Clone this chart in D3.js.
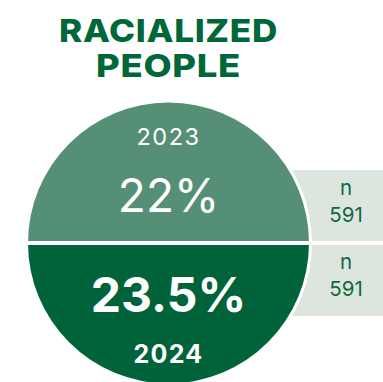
<!DOCTYPE html>
<html>
<head>
<meta charset="utf-8">
<script src="https://cdn.jsdelivr.net/npm/d3@7"></script>
<style>
  html, body { margin: 0; padding: 0; background: #ffffff; }
  svg { display: block; }
  text { font-family: Inter, "Open Sans", sans-serif; }
</style>
</head>
<body>
<script>
// ---- data ----
const titleLines = ["RACIALIZED", "PEOPLE"];
const years = ["2023", "2024"];
const values = [22, 23.5];
const valueLabels = ["22%", "23.5%"];
const sampleSizes = [591, 591];

// ---- layout ----
const W = 383, H = 382;
const cx = 168.5, cy = 243, R = 140.5;
const colors = ["#558f76", "#00633a"];
const boxColor = "#dde5df";
const darkGreen = "#006838";
const titleWidths = [219, 145];

const svg = d3.select("body").append("svg").attr("width", W).attr("height", H);

// title (glyphs widened horizontally to match the wide geometric face)
titleLines.forEach((line, i) => {
  const tg = svg.append("g").attr("transform", `translate(${cx},${42 + i * 35})`);
  const t = tg.append("text")
    .attr("text-anchor", "middle")
    .attr("font-size", 31.5)
    .attr("font-weight", 800)
    .attr("fill", darkGreen)
    .attr("letter-spacing", 0.6)
    .text(line);
  const w = t.node().getComputedTextLength();
  tg.attr("transform", `translate(${cx},${42 + i * 35}) scale(${titleWidths[i] / w},1)`);
});

// vertical band scale for the two halves / boxes
const yBand = d3.scaleBand().domain(years).range([cy - 73, cy + 73]).paddingInner(4 / 146);

// n boxes
svg.selectAll("rect.box").data(years).join("rect")
  .attr("class", "box")
  .attr("x", 293)
  .attr("y", d => yBand(d))
  .attr("width", W - 293)
  .attr("height", yBand.bandwidth())
  .attr("fill", boxColor);

// white halo behind the circle
svg.append("circle").attr("cx", cx).attr("cy", cy).attr("r", R + 3).attr("fill", "#fff");

// halves via pie
const pie = d3.pie().value(() => 1).sort(null).startAngle(-Math.PI / 2).endAngle(1.5 * Math.PI);
const arc = d3.arc().innerRadius(0).outerRadius(R);
const g = svg.append("g").attr("transform", `translate(${cx},${cy})`);
g.selectAll("path").data(pie(years)).join("path")
  .attr("d", arc)
  .attr("fill", (d, i) => colors[i]);

// white separator stripe
svg.append("rect").attr("x", 0).attr("y", cy - 2).attr("width", W).attr("height", 4).attr("fill", "#fff");

// labels in top half (2023)
svg.append("text").attr("x", cx).attr("y", 145).attr("text-anchor", "middle")
  .attr("font-size", 23.5).attr("font-weight", 400).attr("fill", "#fff").attr("letter-spacing", 1.5)
  .text(years[0]);
svg.append("text").attr("x", cx).attr("y", 211.5).attr("text-anchor", "middle")
  .attr("font-size", 46).attr("font-weight", 400).attr("fill", "#fff")
  .text(valueLabels[0]);

// labels in bottom half (2024)
svg.append("text").attr("x", cx).attr("y", 311.5).attr("text-anchor", "middle")
  .attr("font-size", 48).attr("font-weight", 700).attr("fill", "#fff")
  .text(valueLabels[1]);
svg.append("text").attr("x", cx).attr("y", 363).attr("text-anchor", "middle")
  .attr("font-size", 25).attr("font-weight", 700).attr("fill", "#fff").attr("letter-spacing", 1.3)
  .text(years[1]);

// n labels
years.forEach((yr, i) => {
  const top = yBand(yr);
  svg.append("text").attr("x", 346).attr("y", top + 25).attr("text-anchor", "middle")
    .attr("font-size", 20.5).attr("fill", "#10693f").text("n");
  svg.append("text").attr("x", 346).attr("y", top + 51.5).attr("text-anchor", "middle")
    .attr("font-size", 20.5).attr("fill", "#10693f").text(sampleSizes[i]);
});
</script>
</body>
</html>
